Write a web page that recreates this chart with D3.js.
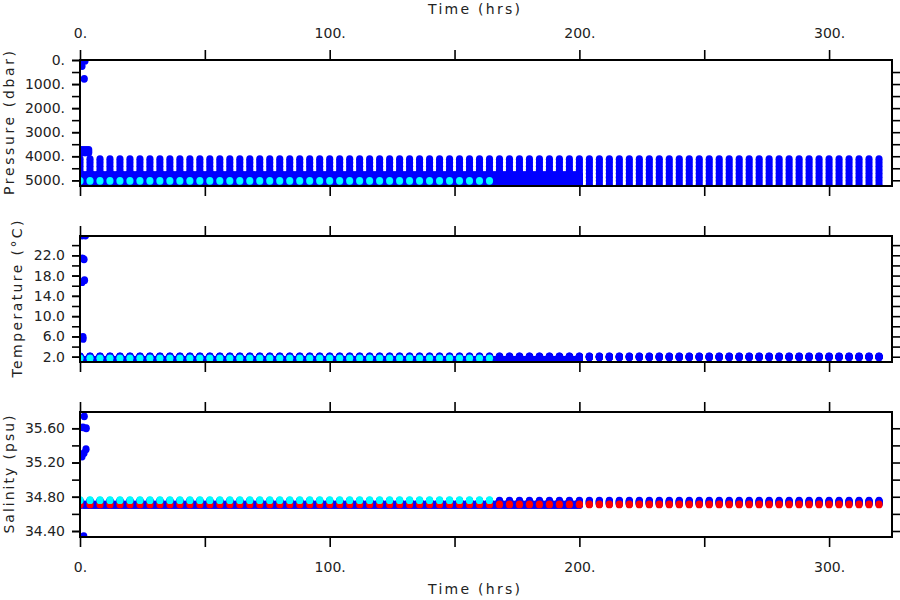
<!DOCTYPE html>
<html><head><meta charset="utf-8">
<script src="https://cdn.jsdelivr.net/npm/d3@7"></script>
<style>body{margin:0;background:#fff}svg{display:block}</style>
</head><body>
<svg id="c" width="900" height="600"></svg>
<script>
// ---------------- data ----------------
const timeTicks = [0,50,100,150,200,250,300];
const timeLabels = [0,100,200,300];
const pressureLabels = [0,1000,2000,3000,4000,5000];
const pressureMinor = [0,500,1000,1500,2000,2500,3000,3500,4000,4500,5000];
const tempLabels = [2,6,10,14,18,22];
const tempMinor = [2,4,6,8,10,12,14,16,18,20,22,24];
const salLabels = [34.4,34.8,35.2,35.6];
const salMinor = [34.4,34.6,34.8,35.0,35.2,35.4,35.6];

// initial descent (hrs, value)
const pEarlyTime = [0.5,2.0,0.8,1.7,0.5,1.5,2.5,3.5,0.5,1.5,2.5,3.5];
const pEarlyValue = [20,30,250,783,3740,3740,3740,3740,3840,3840,3840,3840];
const tEarlyTime = [0.8,2.2,1.0,1.6,0.8,1.8,1.2,1.2];
const tEarlyValue = [25.9,25.9,21.4,21.2,16.7,17.1,5.9,5.5];
const sEarlyTime = [1.7,1.2,2.5,0.8,1.6,2.4,1.5];
const sEarlyValue = [35.74,35.61,35.60,35.27,35.31,35.355,34.34];

// profiling cycles (hrs)
const cycleTimes = [0,4,8,12,16,20,24,28,32,36,40,44,48,52,56,60,64,68,72,76,80,84,88,92,96,100,104,108,112,116,120,124,128,132,136,140,144,148,152,156,160,164,168,172,176,180,184,188,192,196,200,204,208,212,216,220,224,228,232,236,240,244,248,252,256,260,264,268,272,276,280,284,288,292,296,300,304,308,312,316,320];
const profilePressure = [4120,4270,4420,4570,4720,4870,5020,5170];
const profileTemp = [2.05,2.03,2.01,1.99,1.97,1.95,1.93,1.92];
const profileSal = [34.755,34.75,34.744,34.738,34.732,34.726,34.72,34.715];

// continuous bottom record (hrs)
const contTimes = [0,1.33,2.67,4,5.33,6.67,8,9.33,10.67,12,13.33,14.67,16,17.33,18.67,20,21.33,22.67,24,25.33,26.67,28,29.33,30.67,32,33.33,34.67,36,37.33,38.67,40,41.33,42.67,44,45.33,46.67,48,49.33,50.67,52,53.33,54.67,56,57.33,58.67,60,61.33,62.67,64,65.33,66.67,68,69.33,70.67,72,73.33,74.67,76,77.33,78.67,80,81.33,82.67,84,85.33,86.67,88,89.33,90.67,92,93.33,94.67,96,97.33,98.67,100,101.33,102.67,104,105.33,106.67,108,109.33,110.67,112,113.33,114.67,116,117.33,118.67,120,121.33,122.67,124,125.33,126.67,128,129.33,130.67,132,133.33,134.67,136,137.33,138.67,140,141.33,142.67,144,145.33,146.67,148,149.33,150.67,152,153.33,154.67,156,157.33,158.67,160,161.33,162.67,164,165.33,166.67,168,169.33,170.67,172,173.33,174.67,176,177.33,178.67,180,181.33,182.67,184,185.33,186.67,188,189.33,190.67,192,193.33,194.67,196,197.33,198.67,200];
const contPressure = [4780,4960,5120,5290];
const contTemp = [1.42,1.40,1.38,1.36];
const contSal = [34.712,34.709,34.707,34.705];

// reference bottom samples (cyan)
const refTimes = [0,4,8,12,16,20,24,28,32,36,40,44,48,52,56,60,64,68,72,76,80,84,88,92,96,100,104,108,112,116,120,124,128,132,136,140,144,148,152,156,160,164];
const refPressure = [5020];
const refTemp = [1.69];
const refSal = [34.76];

// calibrated salinity (red)
const calTimes = cycleTimes;
const calSal = [34.71];

// ---------------- drawing ----------------
const BLUE = "#0000ff", CYAN = "#00ffff", RED = "#ff0000";
const RX = 3.6, RY = 3.9;
const FONT = "DejaVu Sans";
const svg = d3.select("#c").style("font-family", FONT);
const x = d3.scaleLinear().domain([0, 325.2]).range([80, 892]);

function cross(times, levels) {
  const out = [];
  times.forEach(t => levels.forEach(v => out.push([t, v])));
  return out;
}
function zip(ts, vs) { return ts.map((t, i) => [t, vs[i]]); }

const panels = [
  { id: "p", top: 60, bottom: 186, y: d3.scaleLinear().domain([0, 5237]).range([60, 186]),
    labels: pressureLabels, minor: pressureMinor, rightTicks: pressureMinor.filter(d => d > 0),
    fmt: d => d + ".", title: "Pressure (dbar)", titleX: 14, titleLen: 144,
    layers: [
      { c: BLUE, pts: zip(pEarlyTime, pEarlyValue) },
      { c: BLUE, pts: cross(cycleTimes, profilePressure) },
      { c: BLUE, pts: cross(contTimes, contPressure) },
      { c: CYAN, pts: cross(refTimes, refPressure) }
    ] },
  { id: "t", top: 236, bottom: 362, y: d3.scaleLinear().domain([0.96, 25.8]).range([362, 236]),
    labels: tempLabels, minor: tempMinor, rightTicks: tempMinor,
    fmt: d => d.toFixed(1), title: "Temperature (\u00B0C)", titleX: 22, titleLen: 157,
    layers: [
      { c: BLUE, pts: zip(tEarlyTime, tEarlyValue) },
      { c: BLUE, pts: cross(cycleTimes, profileTemp) },
      { c: BLUE, pts: cross(contTimes, contTemp) },
      { c: CYAN, pts: cross(refTimes, refTemp) }
    ] },
  { id: "s", top: 412, bottom: 537, y: d3.scaleLinear().domain([34.33, 35.79]).range([537, 412]),
    labels: salLabels, minor: salMinor, rightTicks: salMinor,
    fmt: d => d.toFixed(2), title: "Salinity (psu)", titleX: 14, titleLen: 118,
    layers: [
      { c: BLUE, pts: zip(sEarlyTime, sEarlyValue) },
      { c: BLUE, pts: cross(cycleTimes, profileSal) },
      { c: BLUE, pts: cross(contTimes, contSal) },
      { c: RED, pts: cross(calTimes, calSal) },
      { c: CYAN, pts: cross(refTimes, refSal) }
    ] }
];

const defs = svg.append("defs");

function styleAxis(g) {
  g.select(".domain").remove();
  g.selectAll(".tick line").attr("stroke", "#000").attr("stroke-width", 1.6);
  g.selectAll(".tick text").attr("fill", "#222").style("font-family", FONT).style("font-size", "14px");
}

panels.forEach((p, i) => {
  defs.append("clipPath").attr("id", "clip-" + p.id)
    .append("rect").attr("x", 80).attr("y", p.top).attr("width", 812).attr("height", p.bottom - p.top);

  const plot = svg.append("g").attr("clip-path", `url(#clip-${p.id})`);
  p.layers.forEach(L => {
    plot.append("g").selectAll("ellipse").data(L.pts).join("ellipse")
      .attr("cx", d => x(d[0])).attr("cy", d => p.y(d[1])).attr("rx", RX).attr("ry", RY).attr("fill", L.c);
  });

  svg.append("g").attr("transform", "translate(80,0)")
    .call(d3.axisLeft(p.y).tickValues(p.minor).tickSize(8).tickFormat(""))
    .call(styleAxis);
  svg.append("g").attr("transform", "translate(80,0)")
    .call(d3.axisLeft(p.y).tickValues(p.labels).tickSize(8).tickPadding(7).tickFormat(p.fmt))
    .call(styleAxis);
  svg.append("g").attr("transform", "translate(892,0)")
    .call(d3.axisRight(p.y).tickValues(p.rightTicks).tickSize(8).tickFormat(""))
    .call(styleAxis);
  const top = svg.append("g").attr("transform", `translate(0,${p.top})`);
  if (i === 0) {
    top.call(d3.axisTop(x).tickValues(timeTicks).tickSize(10).tickPadding(12)
      .tickFormat(d => timeLabels.includes(d) ? d + "." : "")).call(styleAxis);
  } else {
    top.call(d3.axisTop(x).tickValues(timeTicks).tickSize(10).tickFormat("")).call(styleAxis);
  }
  const bot = svg.append("g").attr("transform", `translate(0,${p.bottom})`);
  if (i === panels.length - 1) {
    bot.call(d3.axisBottom(x).tickValues(timeTicks).tickSize(10).tickPadding(15)
      .tickFormat(d => timeLabels.includes(d) ? d + "." : "")).call(styleAxis);
  } else {
    bot.call(d3.axisBottom(x).tickValues(timeTicks).tickSize(10).tickFormat("")).call(styleAxis);
  }

  svg.append("rect").attr("x", 80).attr("y", p.top).attr("width", 812).attr("height", p.bottom - p.top)
    .attr("fill", "none").attr("stroke", "#000").attr("stroke-width", 2);

  svg.append("text")
    .attr("transform", `translate(${p.titleX},${(p.top + p.bottom) / 2}) rotate(-90)`)
    .attr("text-anchor", "middle").attr("fill", "#222")
    .style("font-size", "14px")
    .attr("textLength", p.titleLen).attr("lengthAdjust", "spacing")
    .text(p.title);
});

svg.append("text").attr("x", 474).attr("y", 14).attr("text-anchor", "middle")
  .attr("fill", "#222").style("font-size", "14px").attr("textLength", 92).attr("lengthAdjust", "spacing")
  .text("Time (hrs)");
svg.append("text").attr("x", 474).attr("y", 594).attr("text-anchor", "middle")
  .attr("fill", "#222").style("font-size", "14px").attr("textLength", 92).attr("lengthAdjust", "spacing")
  .text("Time (hrs)");
</script>
</body></html>
